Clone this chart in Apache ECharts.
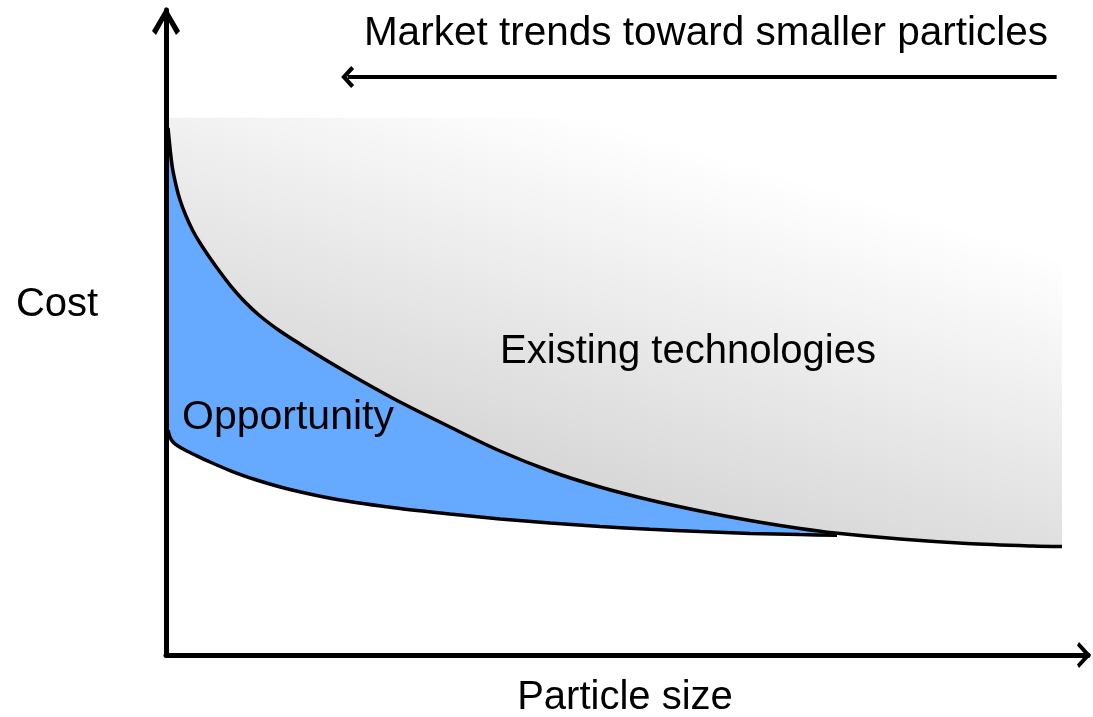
<!DOCTYPE html>
<html>
<head>
<meta charset="utf-8">
<script src="https://cdn.jsdelivr.net/npm/echarts@6/dist/echarts.min.js"></script>
<style>
  html, body { margin: 0; padding: 0; background: #ffffff; }
  #chart { width: 1093px; height: 717px; }
</style>
</head>
<body>
<div id="chart"></div>
<script>
// ---- data (abstract units: particle size 0..100, cost 0..100) ----
const existingSize = [0.22, 0.65, 1.08, 1.52, 2.17, 2.93, 3.69, 4.77, 5.86, 6.94, 8.57, 10.20, 12.36, 14.53, 17.79, 21.04, 25.38, 30.80, 36.23, 41.65, 47.07, 52.49, 57.92, 63.34, 68.76, 72.56, 79.61, 86.88, 94.03, 97.18];
const existingCost = [81.71, 75.97, 72.87, 70.54, 68.06, 65.74, 63.88, 61.55, 59.38, 57.36, 54.73, 52.56, 50.23, 48.22, 45.35, 42.64, 39.22, 35.35, 31.63, 28.53, 26.05, 24.03, 22.33, 20.85, 19.61, 18.91, 17.98, 17.29, 16.90, 16.81];
const opportunitySize = [0.22, 0.43, 0.76, 1.30, 2.06, 3.15, 4.77, 6.94, 9.65, 13.45, 18.87, 25.38, 30.80, 36.23, 41.65, 47.07, 52.49, 57.92, 63.34, 68.76, 72.78];
const opportunityCost = [34.88, 33.80, 33.02, 32.40, 31.78, 31.01, 29.92, 28.60, 27.21, 25.66, 24.03, 22.71, 21.86, 21.09, 20.47, 19.92, 19.49, 19.13, 18.85, 18.67, 18.56];
const regionTop = 83.3;      // top of the "existing technologies" region
const regionEnd = 97.18;     // right end of the region
const trendArrowFrom = [96.6, 89.6];
const trendArrowTo = [19.7, 89.6];

const titleText = 'Market trends toward smaller particles';
const yName = 'Cost';
const xName = 'Particle size';
const existingLabel = 'Existing technologies';
const opportunityLabel = 'Opportunity';

// ---- build ----
const upperPts = existingSize.map((x, i) => [x, existingCost[i]]);
const lowerPts = opportunitySize.map((x, i) => [x, opportunityCost[i]]);
const lowerEnd = opportunitySize[opportunitySize.length - 1];
const bluePts = upperPts.filter(p => p[0] <= lowerEnd);
const whitePts = upperPts.concat([[regionEnd + 1.5, existingCost[existingCost.length - 1]]]);

const FONT = '"Liberation Sans", Arial, Helvetica, sans-serif';
const hidden = { color: 'transparent', width: 0, opacity: 0 };
const SMOOTH = 0.3;

const chart = echarts.init(document.getElementById('chart'), null, { renderer: 'canvas' });

chart.setOption({
  animation: false,
  backgroundColor: '#ffffff',
  grid: { left: 166, top: 10, width: 922, bottom: 62 },
  xAxis: {
    type: 'value', min: 0, max: 100, z: 10,
    axisLine: {
      show: true, onZero: false,
      lineStyle: { color: '#000', width: 5 },
      symbol: ['none', 'path://M13,0 L26,12 L22.5,14 L13,5.5 L3.5,14 L0,12 Z'],
      symbolSize: [26, 14],
      symbolOffset: [0, -4]
    },
    axisTick: { show: false }, axisLabel: { show: false }, splitLine: { show: false }
  },
  yAxis: {
    type: 'value', min: 0, max: 100, z: 10,
    axisLine: {
      show: true, onZero: false,
      lineStyle: { color: '#000', width: 5 },
      symbol: ['none', 'path://M14,0 L28,24 L24,28 L14,10 L4,28 L0,24 Z'],
      symbolSize: [28, 28],
      symbolOffset: [0, -11]
    },
    axisTick: { show: false }, axisLabel: { show: false }, splitLine: { show: false }
  },
  series: [
    {
      name: existingLabel + ' region', type: 'line', symbol: 'none', silent: true,
      data: [[0, regionTop], [regionEnd, regionTop]],
      lineStyle: hidden,
      areaStyle: {
        opacity: 1,
        color: {
          type: 'linear', global: true,
          x: 600, y: 560, x2: 721, y2: 156,
          colorStops: [{ offset: 0, color: '#cfcfcf' }, { offset: 1, color: '#ffffff' }]
        }
      },
      markLine: {
        silent: true, animation: false,
        symbol: ['none', 'path://M11,0 L22,10 L19,13 L11,5.5 L3,13 L0,10 Z'],
        symbolSize: [22, 13],
        label: { show: false },
        lineStyle: { color: '#000', width: 4, type: 'solid' },
        data: [[{ coord: trendArrowFrom }, { coord: trendArrowTo }]]
      }
    },
    {
      name: 'below existing', type: 'line', symbol: 'none', silent: true, smooth: SMOOTH,
      data: whitePts, lineStyle: hidden,
      areaStyle: { color: '#ffffff', opacity: 1 }
    },
    {
      name: opportunityLabel, type: 'line', symbol: 'none', silent: true, smooth: SMOOTH,
      data: bluePts, lineStyle: hidden,
      areaStyle: { color: '#66aaff', opacity: 1 }
    },
    {
      name: 'new technology', type: 'line', symbol: 'none', silent: true, smooth: SMOOTH,
      data: lowerPts,
      lineStyle: { color: '#000', width: 3.5 },
      areaStyle: { color: '#ffffff', opacity: 1 }
    },
    {
      name: existingLabel, type: 'line', symbol: 'none', silent: true, smooth: SMOOTH,
      data: upperPts,
      lineStyle: { color: '#000', width: 3.5 }
    }
  ],
  graphic: [
    { type: 'text', x: 706, y: 34, z: 100, style: { text: titleText, font: '40.5px ' + FONT, fill: '#000', textAlign: 'center', textVerticalAlign: 'middle' } },
    { type: 'text', x: 57, y: 305, z: 100, style: { text: yName, font: '40px ' + FONT, fill: '#000', textAlign: 'center', textVerticalAlign: 'middle' } },
    { type: 'text', x: 625, y: 698, z: 100, style: { text: xName, font: '40px ' + FONT, fill: '#000', textAlign: 'center', textVerticalAlign: 'middle' } },
    { type: 'text', x: 688, y: 352, z: 100, style: { text: existingLabel, font: '40px ' + FONT, fill: '#000', textAlign: 'center', textVerticalAlign: 'middle' } },
    { type: 'text', x: 182, y: 418, z: 100, style: { text: opportunityLabel, font: '41px ' + FONT, fill: '#000', textAlign: 'left', textVerticalAlign: 'middle' } }
  ]
});
</script>
</body>
</html>
